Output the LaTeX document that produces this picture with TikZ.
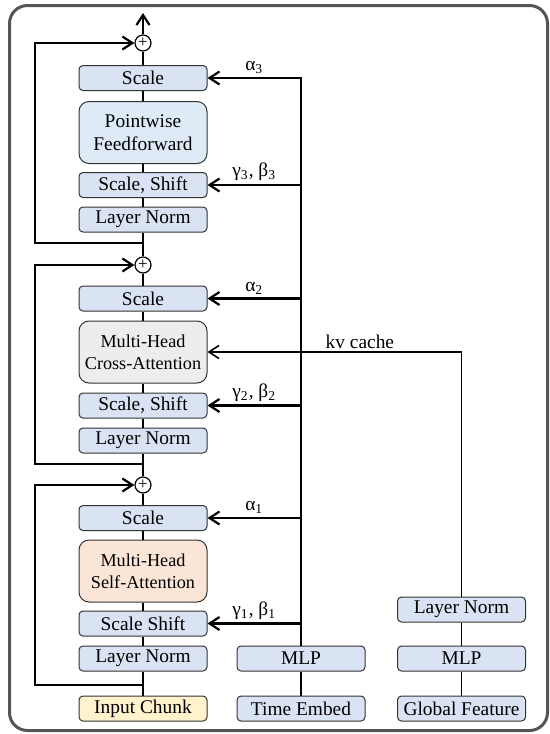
\documentclass[tikz,border=0pt]{standalone}
\usepackage{fontspec}
\setmainfont{Liberation Serif}
\usetikzlibrary{arrows.meta}
\definecolor{boxblue}{HTML}{DAE3F3}
\definecolor{ffnblue}{HTML}{DEEBF7}
\definecolor{xgray}{HTML}{EDEDED}
\definecolor{sorange}{HTML}{FBE5D6}
\definecolor{inyellow}{HTML}{FFF2CC}
\definecolor{framegray}{HTML}{555555}
\tikzset{
    blk/.style={draw=black!80, line width=0.5pt, fill=boxblue, rounded corners=2pt,
            minimum width=64pt, minimum height=12.5pt, inner sep=0pt,
            font=\fontsize{9.7}{11.5}\selectfont},
    bigblk/.style={blk, minimum height=31pt, rounded corners=5pt, align=center},
    attblk/.style={bigblk, font=\fontsize{9.1}{11.2}\selectfont},
    addop/.style={draw, circle, line width=0.6pt, minimum size=8pt, inner sep=0pt,
            fill=white, font=\fontsize{8.5}{8.5}\selectfont},
    thin link/.style={line width=0.7pt},
    thick link/.style={line width=1.1pt},
    barb/.style={-{Straight Barb[length=5pt,width=6.5pt]}},
    lbl/.style={font=\fontsize{9.7}{11}\selectfont, inner sep=1.5pt},
}

\begin{document}
\begin{tikzpicture}[x=0.5pt,y=-0.5pt]
        \useasboundingbox (0,0) rectangle (550,734);
        %outer frame
        \draw[framegray, line width=1.5pt, rounded corners=9pt] (9.5,5.5) rectangle (547.5,730.5);
        %first block: self-attention
        \node[blk, fill=inyellow] (input) at (143,708.5) {Input Chunk};
        \node[blk] (lnA) at (143,658.5) {Layer Norm};
        \node[blk] (ssA) at (143,623.5) {Scale Shift};
        \node[attblk, fill=sorange] (sattn) at (143,571) {Multi-Head\\Self-Attention};
        \node[blk] (scA) at (143,518) {Scale};
        \node[addop] (addA) at (143,485) {+};
        %second block: cross-attention
        \node[blk] (lnB) at (143,440.5) {Layer Norm};
        \node[blk] (ssB) at (143,405.5) {Scale, Shift};
        \node[attblk, fill=xgray] (xattn) at (143,352) {Multi-Head\\Cross-Attention};
        \node[blk] (scB) at (143,298.5) {Scale};
        \node[addop] (addB) at (143,265) {+};
        %third block: feedforward
        \node[blk] (lnC) at (143,219.5) {Layer Norm};
        \node[blk] (ssC) at (143,185) {Scale, Shift};
        \node[bigblk, fill=ffnblue] (ffn) at (143,132.5) {Pointwise\\Feedforward};
        \node[blk] (scC) at (143,78) {Scale};
        \node[addop] (addC) at (143,43) {+};
        \coordinate (out) at (143,13);
        %main column links
        \draw[thin link] (input) -- (lnA) -- (ssA) -- (sattn) -- (scA) -- (addA);
        \draw[thin link] (addA) -- (lnB) -- (ssB) -- (xattn) -- (scB) -- (addB);
        \draw[thin link] (addB) -- (lnC) -- (ssC) -- (ffn) -- (scC) -- (addC);
        \draw[thick link, barb] (addC) -- (out);
        %residual paths
        \coordinate (brA) at (143,685);
        \coordinate (brB) at (143,464);
        \coordinate (brC) at (143,243);
        \draw[thick link, barb] (brA) -- ++(-108,0) |- (addA.west);
        \draw[thick link, barb] (brB) -- ++(-108,0) |- (addB.west);
        \draw[thick link, barb] (brC) -- ++(-108,0) |- (addC.west);
        %time embedding
        \node[blk] (temb) at (301,708.5) {Time Embed};
        \node[blk] (mlpT) at (301,658.5) {MLP};
        \draw[thick link] (temb) -- (mlpT);
        \draw[thick link, barb] (mlpT.north) |- (scC.east)
            node[lbl, above, pos=0.75] {α\textsubscript{3}};
        \draw[thick link, barb] (mlpT.north |- ssC.east) -- (ssC.east)
            node[lbl, above, midway] {γ\textsubscript{3}, β\textsubscript{3}};
        \draw[thick link, barb] (mlpT.north |- scB.east) -- (scB.east)
            node[lbl, above, midway] {α\textsubscript{2}};
        \draw[thick link, barb] (mlpT.north |- ssB.east) -- (ssB.east)
            node[lbl, above, midway] {γ\textsubscript{2}, β\textsubscript{2}};
        \draw[thick link, barb] (mlpT.north |- scA.east) -- (scA.east)
            node[lbl, above, midway] {α\textsubscript{1}};
        \draw[thick link, barb] (mlpT.north |- ssA.east) -- (ssA.east)
            node[lbl, above, midway] {γ\textsubscript{1}, β\textsubscript{1}};
        %global feature
        \node[blk] (gfeat) at (461.5,708.5) {Global Feature};
        \node[blk] (mlpG) at (461.5,658.5) {MLP};
        \node[blk] (lnG) at (461.5,609.5) {Layer Norm};
        \draw[thin link] (gfeat) -- (mlpG) -- (lnG);
        \draw[line width=0.8pt, barb] (lnG.north) |- (xattn.east)
            node[lbl, above, pos=0.7] {kv cache};
    \end{tikzpicture}
\end{document}
